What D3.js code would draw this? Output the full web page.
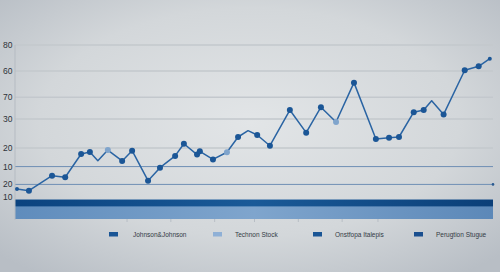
<!DOCTYPE html>
<html lang="en">
<head>
<meta charset="utf-8">
<title>Stock chart</title>
<script src="https://d3js.org/d3.v7.min.js"></script>
<style>
  body { margin: 0; background: #c8cdd2; }
  text { font-family: "Liberation Sans Narrow", "Liberation Sans", sans-serif; }
</style>
</head>
<body>
<div id="chart"></div>
<script>
// months since start, and price index
var months = [0.5, 3.5, 9.3, 12.6, 16.6, 18.8, 20.8, 23.3, 26.9, 29.4, 33.4, 36.4, 40.2, 42.4, 45.7, 46.4, 49.7, 53.2,
              56.0, 58.5, 60.8, 64.0, 69.0, 73.1, 76.8, 80.6, 85.1, 90.6, 93.9, 96.4, 100.1, 102.6, 104.6, 107.6, 112.9, 116.4, 119.2];
var prices = [13.8, 13.0, 19.9, 19.2, 29.9, 30.8, 26.8, 31.7, 26.7, 31.4, 17.6, 23.6, 29.0, 34.6, 29.6, 31.1, 27.4, 30.7,
              37.7, 40.6, 38.6, 33.7, 50.1, 39.7, 51.4, 44.6, 62.7, 36.8, 37.4, 37.7, 49.1, 50.1, 54.4, 48.1, 68.4, 70.2, 73.7];
// marker kind per point: 1 dark, 2 light, 0 none, 3 small
var markerKind = [3, 1, 1, 1, 1, 1, 0, 2, 1, 1, 1, 1, 1, 1, 1, 1, 1, 2,
                  1, 0, 1, 1, 1, 1, 1, 2, 1, 1, 1, 1, 1, 1, 0, 1, 1, 1, 3];

var tickValues = [80, 68, 56, 46, 32.6, 24.1, 15.9, 10.1];
var tickLabels = ["80", "60", "70", "30", "20", "10", "20", "10"];
var gridStyle = ["grey", "grey", "grey", "grey", "grey", "blue", "blue", "none"];

var legendNames = ["Johnson&Johnson", "Technon Stock", "Onstfopa Italepis", "Perugtion Stugue"];
var legendColors = ["#1a5595", "#8fb0d6", "#1a5595", "#1a4f8f"];

var W = 500, H = 272;
var margin = {left: 15, right: 7, top: 45, bottom: 53};

var svg = d3.select("#chart").append("svg")
    .attr("width", W)
    .attr("height", H);

var defs = svg.append("defs");
var bg = defs.append("radialGradient").attr("id", "bg")
    .attr("cx", "50%").attr("cy", "45%").attr("r", "70%");
bg.append("stop").attr("offset", "0%").attr("stop-color", "#e2e5e7");
bg.append("stop").attr("offset", "60%").attr("stop-color", "#d3d7da");
bg.append("stop").attr("offset", "100%").attr("stop-color", "#b8bec5");

var band = defs.append("linearGradient").attr("id", "band")
    .attr("x1", "0%").attr("x2", "100%");
band.append("stop").attr("offset", "0%").attr("stop-color", "#5f8cbc");
band.append("stop").attr("offset", "50%").attr("stop-color", "#7fa5cd");
band.append("stop").attr("offset", "100%").attr("stop-color", "#5c88b8");

var bandDark = defs.append("linearGradient").attr("id", "bandDark")
    .attr("x1", "0%").attr("x2", "100%");
bandDark.append("stop").attr("offset", "0%").attr("stop-color", "#0b437f");
bandDark.append("stop").attr("offset", "50%").attr("stop-color", "#1a5a98");
bandDark.append("stop").attr("offset", "100%").attr("stop-color", "#0b3f78");

svg.append("rect")
    .attr("width", W)
    .attr("height", H)
    .attr("fill", "url(#bg)");

var x = d3.scaleLinear()
    .domain([0, 120])
    .range([margin.left, W - margin.right]);

var y = d3.scaleLinear()
    .domain([0, 80])
    .range([H - margin.bottom, margin.top]);

// gridlines
svg.selectAll("line.grid")
    .data(tickValues)
    .enter()
    .append("line")
    .attr("class", "grid")
    .attr("x1", margin.left)
    .attr("x2", W - margin.right)
    .attr("y1", function(d) { return y(d); })
    .attr("y2", function(d) { return y(d); })
    .attr("stroke", function(d, i) { return gridStyle[i] == "blue" ? "#6f8fb5" : "#c3c8cd"; })
    .attr("stroke-width", function(d, i) { return gridStyle[i] == "blue" ? 1 : 1.5; })
    .attr("opacity", function(d, i) { return gridStyle[i] == "none" ? 0 : 1; });

// little end dot on lower blue gridline
svg.append("circle")
    .attr("cx", W - margin.right)
    .attr("cy", y(tickValues[6]))
    .attr("r", 1.3)
    .attr("fill", "#2a5a90");

// y labels
svg.selectAll("text.ylab")
    .data(tickValues)
    .enter()
    .append("text")
    .attr("class", "ylab")
    .attr("x", 3)
    .attr("y", function(d) { return y(d) + 3; })
    .attr("font-size", 8.5)
    .attr("fill", "#2e3339")
    .text(function(d, i) { return tickLabels[i]; });

// bottom band
svg.append("rect")
    .attr("x", margin.left)
    .attr("y", y(8.9))
    .attr("width", W - margin.right - margin.left)
    .attr("height", y(0) - y(8.9))
    .attr("fill", "url(#band)");

svg.append("rect")
    .attr("x", margin.left)
    .attr("y", y(8.9))
    .attr("width", W - margin.right - margin.left)
    .attr("height", y(5.8) - y(8.9))
    .attr("fill", "url(#bandDark)");

// left axis line
svg.append("line")
    .attr("x1", margin.left).attr("x2", margin.left)
    .attr("y1", y(80)).attr("y2", y(0) + 1)
    .attr("stroke", "#b5bbc2")
    .attr("stroke-width", 1);

// faint x ticks under band
var xAxis = d3.axisBottom(x).tickValues([28, 39, 50, 60, 71, 82, 91]).tickSize(3).tickFormat("");
var gx = svg.append("g")
    .attr("transform", "translate(0," + y(0) + ")")
    .call(xAxis);
gx.select(".domain").remove();
gx.selectAll("line").attr("stroke", "#b8bec5");

// line
var data = months.map(function(m, i) { return {m: m, p: prices[i], k: markerKind[i]}; });

var line = d3.line()
    .x(function(d) { return x(d.m); })
    .y(function(d) { return y(d.p); });

svg.append("path")
    .datum(data)
    .attr("d", line)
    .attr("fill", "none")
    .attr("stroke", "#2a64a3")
    .attr("stroke-width", 1.5)
    .attr("stroke-linejoin", "round");

svg.selectAll("circle.pt")
    .data(data.filter(function(d) { return d.k > 0; }))
    .enter()
    .append("circle")
    .attr("class", "pt")
    .attr("cx", function(d) { return x(d.m); })
    .attr("cy", function(d) { return y(d.p); })
    .attr("r", function(d) { return d.k == 3 ? 2 : 3; })
    .attr("fill", function(d) { return d.k == 2 ? "#7fa4cc" : "#1b5696"; });

// legend
var legendX = [109, 213, 313, 414];
var lg = svg.selectAll("g.legend")
    .data(legendNames)
    .enter()
    .append("g")
    .attr("class", "legend")
    .attr("transform", function(d, i) { return "translate(" + legendX[i] + ",232)"; });

lg.append("rect")
    .attr("width", 9)
    .attr("height", 4.5)
    .attr("fill", function(d, i) { return legendColors[i]; });

lg.append("text")
    .attr("x", function(d, i) { return i == 0 ? 24 : 22; })
    .attr("y", 5)
    .attr("font-size", 6.5)
    .attr("fill", "#333a44")
    .text(function(d) { return d; });
</script>
</body>
</html>
